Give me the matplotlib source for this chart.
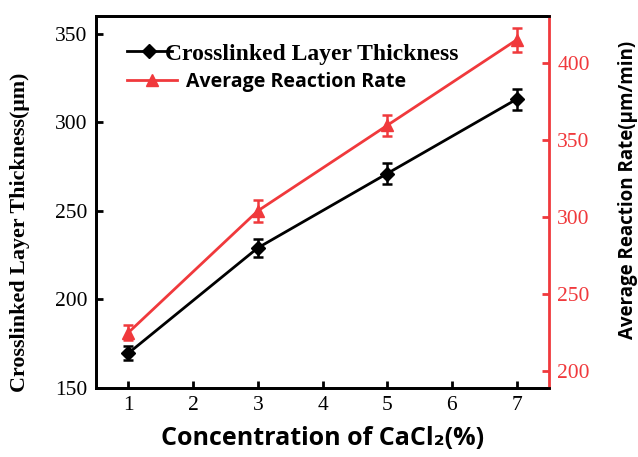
# Crosslinked layer thickness and reaction rate vs CaCl2 concentration

import numpy as np
import matplotlib.pyplot as plt
from matplotlib.lines import Line2D

# Data
conc = [1, 3, 5, 7]
thickness = [169.5, 229, 271, 313]
thickness_err = [4, 5, 6, 6]
rate = [225, 304, 359.5, 415]
rate_err = [5, 7, 7, 8]

red = "#f0393c"
serif = "Liberation Serif"
sans = ["Open Sans", "DejaVu Sans"]

fig = plt.figure(figsize=(6.38, 4.57), dpi=100)
ax = fig.add_axes([0.1505, 0.1516, 0.71, 0.8134])
ax2 = ax.twinx()

ax.errorbar(conc, thickness, yerr=thickness_err, color="black", marker="D",
            markersize=7, linewidth=2, elinewidth=1.8, capsize=3.5, capthick=1.8)
ax2.errorbar(conc, rate, yerr=rate_err, color=red, marker="^",
             markersize=9, linewidth=2, elinewidth=1.8, capsize=3.5, capthick=1.8)

ax.set_xlim(0.5, 7.5)
ax.set_ylim(150, 360)
ax2.set_ylim(189.2, 430.5)
ax.set_xticks(range(1, 8))
ax.set_yticks([150, 200, 250, 300, 350])
ax2.set_yticks([200, 250, 300, 350, 400])

for s in ["left", "bottom", "top"]:
    ax.spines[s].set_linewidth(2)
    ax2.spines[s].set_linewidth(2)
ax2.spines["right"].set_linewidth(2)
ax2.spines["right"].set_color(red)
ax.spines["right"].set_visible(False)

ax.tick_params(axis="both", direction="in", length=5, width=2, labelsize=15.5, pad=6)
ax2.tick_params(axis="y", direction="in", length=5, width=2, labelsize=15.5,
                colors=red, pad=6)
for lab in ax.get_xticklabels() + ax.get_yticklabels() + ax2.get_yticklabels():
    lab.set_fontfamily(serif)

ax.set_xlabel("Concentration of CaCl₂(%)", fontsize=18, fontweight="bold",
              family=sans, labelpad=8)
ax.set_ylabel("Crosslinked Layer Thickness(μm)", fontsize=15.8, fontweight="bold",
              family=serif)
ax.yaxis.set_label_coords(-0.146, 0.419)
ax2.set_ylabel("Average Reaction Rate(μm/min)", fontsize=13.5, fontweight="bold",
               family=sans)
ax2.yaxis.set_label_coords(1.152, 0.532)

# two separate legends so each entry can keep its own font
h1 = Line2D([], [], color="black", marker="D", markersize=7, linewidth=2)
h2 = Line2D([], [], color=red, marker="^", markersize=9, linewidth=2)
leg1 = ax.legend([h1], ["Crosslinked Layer Thickness"], loc="center left",
                 bbox_to_anchor=(0.068, 0.898), frameon=False, borderpad=0,
                 borderaxespad=0, handlelength=1.9, handletextpad=-0.3,
                 prop={"family": serif, "weight": "bold", "size": 17})
ax.add_artist(leg1)
ax.legend([h2], ["Average Reaction Rate"], loc="center left",
          bbox_to_anchor=(0.068, 0.823), frameon=False, borderpad=0,
          borderaxespad=0, handlelength=2.6, handletextpad=0.45,
          prop={"family": sans, "weight": "bold", "size": 14})

plt.savefig("out.png", dpi=100)
